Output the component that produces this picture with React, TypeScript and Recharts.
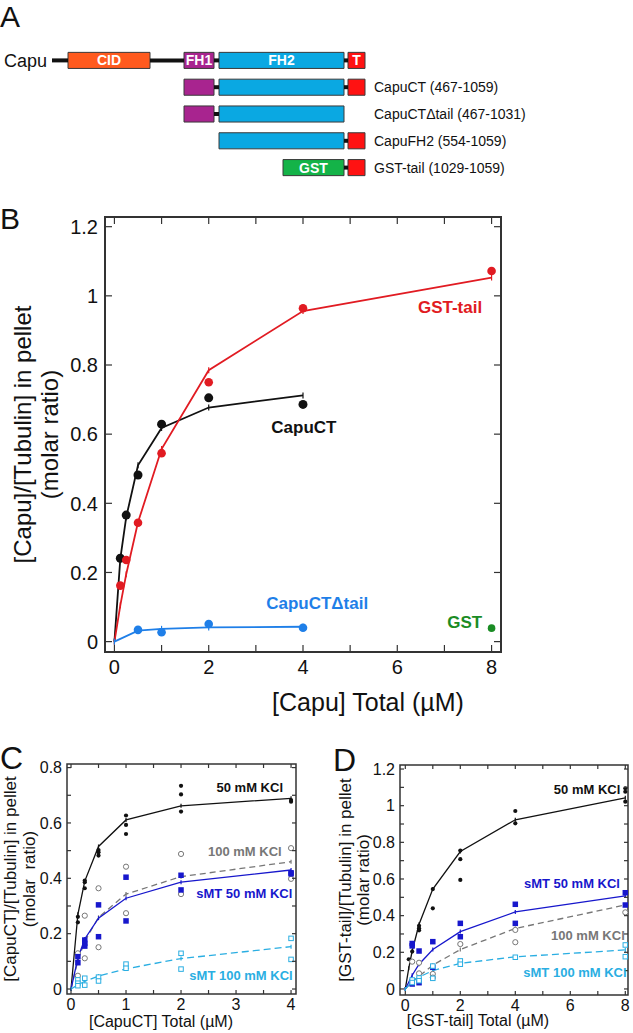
import React from 'react'
import { ComposedChart, Line, Scatter, XAxis, YAxis, ReferenceArea, ReferenceLine, ReferenceDot, Label } from 'recharts'

const FONT = '"Liberation Sans", Arial, Helvetica, sans-serif'

// ---- A: domain map, schematic units along the chain ----
const rowLabels = ['Capu', 'CapuCT (467-1059)', 'CapuCT\u0394tail (467-1031)', 'CapuFH2 (554-1059)', 'GST-tail (1029-1059)']
const rowDomains = [
  ['CID', 'FH1', 'FH2', 'T'],
  ['FH1', 'FH2', 'T'],
  ['FH1', 'FH2'],
  ['FH2', 'T'],
  ['GST', 'T'],
]
const domainStart: Record<string, number> = { CID: 68, FH1: 184, FH2: 219, T: 348, GST: 283 }
const domainEnd: Record<string, number> = { CID: 150, FH1: 214, FH2: 344, T: 365, GST: 344 }
const capuNStart = 52
const chainEnd = 365

// ---- B: pelleting, molar ratio vs total conc (uM) ----
const capuCTConc = [0.125, 0.25, 0.5, 1, 2, 4]
const capuCTPts = [0.241, 0.366, 0.482, 0.629, 0.705, 0.686]
const capuCTFitX = [0, 0.125, 0.25, 0.5, 1, 2, 4]
const capuCTFit = [0, 0.24, 0.36, 0.51, 0.618, 0.677, 0.712]

const gstTailConc = [0.125, 0.25, 0.5, 1, 2, 4, 8]
const gstTailPts = [0.162, 0.236, 0.344, 0.545, 0.75, 0.964, 1.072]
const gstTailFitX = [0, 0.125, 0.25, 0.5, 1, 2, 4, 8]
const gstTailFit = [0, 0.105, 0.195, 0.345, 0.557, 0.785, 0.956, 1.053]

const dTailConc = [0.5, 1, 2, 4]
const dTailPts = [0.034, 0.027, 0.051, 0.04]
const dTailFitX = [0, 0.5, 1, 2, 4]
const dTailFit = [0, 0.032, 0.037, 0.041, 0.043]

const gstConc = [8]
const gstPts = [0.039]

// ---- C: CapuCT, replicates per concentration ----
const cConc = [0.125, 0.25, 0.5, 1, 2, 4]
const cFitX = [0, 0.125, 0.25, 0.5, 1, 2, 4]
const c50Pts = [[0.261, 0.241], [0.392, 0.386, 0.364], [0.502, 0.494, 0.482], [0.627, 0.593, 0.56], [0.734, 0.703, 0.641], [0.683, 0.677]]
const c50Fit = [0, 0.27, 0.39, 0.515, 0.611, 0.662, 0.689]
const c100Pts = [[0.129, 0.048], [0.265, 0.111], [0.364, 0.151], [0.442, 0.274], [0.488, 0.343], [0.509, 0.398]]
const c100Fit = [0, 0.104, 0.173, 0.259, 0.343, 0.406, 0.46]
const cSmt50Pts = [[0.117, 0.095], [0.177, 0.165, 0.155], [0.304, 0.189], [0.404, 0.246], [0.411, 0.358], [0.42, 0.416]]
const cSmt50Fit = [0, 0.112, 0.181, 0.256, 0.328, 0.386, 0.43]
const cSmt100Pts = [[0.033, 0.021, 0.012], [0.039, 0.014], [0.043, 0.029], [0.09, 0.075], [0.129, 0.072], [0.183, 0.107]]
const cSmt100Fit = [0, 0.015, 0.028, 0.047, 0.073, 0.11, 0.153]

// ---- D: GST-tail ----
const d50Conc = [0.125, 0.25, 0.5, 1, 2, 4, 8]
const d50Pts = [[0.162], [0.204], [0.345, 0.331, 0.32], [0.545, 0.44], [0.755, 0.708, 0.595], [0.971, 0.904], [1.095, 1.076, 1.022]]
const d50FitX = [0, 0.125, 0.25, 0.5, 1, 2, 4, 8]
const d50Fit = [0, 0.113, 0.207, 0.353, 0.545, 0.75, 0.923, 1.043]
const dConc = [0.25, 0.5, 1, 2, 4, 8]
const dFitX = [0, 0.25, 0.5, 1, 2, 4, 8]
const dSmt50Pts = [[0.248, 0.235, 0.027], [0.207, 0.034], [0.258, 0.118], [0.358, 0.285], [0.462, 0.358], [0.525, 0.458]]
const dSmt50Fit = [0, 0.075, 0.135, 0.215, 0.313, 0.42, 0.508]
const d100Pts = [[0.149], [0.143, 0.085], [0.082, 0.062], [0.245], [0.322, 0.255], [0.418]]
const d100Fit = [0, 0.04, 0.07, 0.13, 0.215, 0.33, 0.458]
const dSmt100Pts = [[0.049, 0.035], [0.06, 0.045], [0.125, 0.058], [0.153, 0.135], [0.173], [0.24, 0.176]]
const dSmt100Fit = [0, 0.04, 0.065, 0.1, 0.14, 0.175, 0.213]

// ---- axis ticks ----
const bXTicks = [0, 1, 2, 3, 4, 5, 6, 7, 8]
const bXShown = [0, 2, 4, 6, 8]
const bYTicks = [0, 0.2, 0.4, 0.6, 0.8, 1, 1.2]
const cXTicks = [0, 0.5, 1, 1.5, 2, 2.5, 3, 3.5, 4]
const cXShown = [0, 1, 2, 3, 4]
const cYTicks = [0, 0.1, 0.2, 0.3, 0.4, 0.5, 0.6, 0.7, 0.8]
const cYShown = [0, 0.2, 0.4, 0.6, 0.8]
const dXTicks = [0, 1, 2, 3, 4, 5, 6, 7, 8]
const dXShown = [0, 2, 4, 6, 8]
const dYTicks = [0, 0.1, 0.2, 0.3, 0.4, 0.5, 0.6, 0.7, 0.8, 0.9, 1, 1.1, 1.2]
const dYShown = [0, 0.2, 0.4, 0.6, 0.8, 1, 1.2]

const COLORS = {
  black: '#111',
  red: '#e11b22',
  blueB: '#1f7fe8',
  green: '#1a8c24',
  blue: '#1717cc',
  light: '#2aaee2',
  gray: '#777',
  frame: '#333',
}
const domainColor: Record<string, string> = { CID: '#ff5a1e', FH1: '#a8248f', FH2: '#0aa8e2', T: '#ff1212', GST: '#14b348' }

const toXY = (xs: number[], ys: number[]) => xs.map((x, i) => ({ x, y: ys[i] }))
const toReps = (xs: number[], reps: number[][]) => xs.flatMap((x, i) => reps[i].map((y) => ({ x, y })))

const linkers = rowDomains.flatMap((doms, row) => {
  const spans = doms.map((d) => [domainStart[d], domainEnd[d]]).sort((a, b) => a[0] - b[0])
  const segs: number[][] = []
  if (row === 0) segs.push([capuNStart, spans[0][0]])
  for (let i = 1; i < spans.length; i++) segs.push([spans[i - 1][1], spans[i][0]])
  return segs.map((s) => ({ row, x1: s[0], x2: s[1] }))
})

const tickDot = (color: string, h: number) => (p: any) => {
  if (p.cx == null || p.cy == null) return <g key={p.index} />
  return <path key={p.index} d={`M${p.cx},${p.cy - h}V${p.cy + h}`} stroke={color} strokeWidth={1.2} />
}
const circleShape = (r: number, fill: string, stroke = 'none') => (p: any) => (
  <circle cx={p.cx} cy={p.cy} r={r} fill={fill} stroke={stroke} strokeWidth={1} />
)
const squareShape = (s: number, fill: string, stroke = 'none') => (p: any) => (
  <rect x={p.cx - s / 2} y={p.cy - s / 2} width={s} height={s} fill={fill} stroke={stroke} strokeWidth={1} />
)
const noShape = () => <g />

const yTitle = (lines: string[], xs: number[], size: number) => (props: any) => {
  const vb = props.viewBox || { y: 0, height: 0 }
  const cy = vb.y + vb.height / 2
  return (
    <g>
      {lines.map((t, i) => (
        <text key={i} x={xs[i]} y={cy} transform={`rotate(-90 ${xs[i]} ${cy})`} textAnchor="middle" dominantBaseline="central"
          fontSize={size} fontFamily={FONT} fill="#111" style={{ whiteSpace: 'pre' }}>{t}</text>
      ))}
    </g>
  )
}
const xTitle = (text: string, cx: number, capTop: number, size: number) => () => (
  <text x={cx} y={capTop + size * 0.716} textAnchor="middle" fontSize={size} fontFamily={FONT} fill="#111">{text}</text>
)

type Frame = {
  xDomain: [number, number]; xTicks: number[]; xShown: number[]
  yDomain: [number, number]; yTicks: number[]; yShown: number[]
  plotW: number; plotH: number
  tick: number; fontSize: number; xGap: number; yGap: number
  yWidth: number; xHeight: number; stroke: number
  xTitle: (p: any) => any; yTitle: (p: any) => any
}
// bottom/left axes carry the labels; each tick also draws its inward marks on both opposite sides of the box
function frameAxes(o: Frame) {
  const lineStyle = { stroke: COLORS.frame, strokeWidth: 1.2 }
  const bottomTick = (p: any) => {
    const v = p.payload.value
    const yb = p.y - o.xGap
    return (
      <g>
        <line x1={p.x} x2={p.x} y1={yb} y2={yb - o.tick} {...lineStyle} />
        <line x1={p.x} x2={p.x} y1={yb - o.plotH} y2={yb - o.plotH + o.tick} {...lineStyle} />
        {o.xShown.includes(v) && (
          <text x={p.x} y={p.y + o.fontSize * 0.72} textAnchor="middle" fontSize={o.fontSize} fontFamily={FONT} fill="#111">{String(v)}</text>
        )}
      </g>
    )
  }
  const leftTick = (p: any) => {
    const v = p.payload.value
    const xl = p.x + o.yGap
    return (
      <g>
        <line x1={xl} x2={xl + o.tick} y1={p.y} y2={p.y} {...lineStyle} />
        <line x1={xl + o.plotW} x2={xl + o.plotW - o.tick} y1={p.y} y2={p.y} {...lineStyle} />
        {o.yShown.includes(v) && (
          <text x={p.x} y={p.y + o.fontSize * 0.36} textAnchor="end" fontSize={o.fontSize} fontFamily={FONT} fill="#111">{String(v)}</text>
        )}
      </g>
    )
  }
  return [
    <XAxis key="xb" type="number" dataKey="x" domain={o.xDomain} ticks={o.xTicks} interval={0} allowDataOverflow
      tickSize={0} tickMargin={o.xGap} axisLine={false} tickLine={false} tick={bottomTick} height={o.xHeight}>
      <Label content={o.xTitle} />
    </XAxis>,
    <YAxis key="yl" type="number" dataKey="y" domain={o.yDomain} ticks={o.yTicks} interval={0} allowDataOverflow
      tickSize={0} tickMargin={o.yGap} axisLine={false} tickLine={false} tick={leftTick} width={o.yWidth}>
      <Label content={o.yTitle} />
    </YAxis>,
    <ReferenceArea key="frame" x1={o.xDomain[0]} x2={o.xDomain[1]} y1={o.yDomain[0]} y2={o.yDomain[1]}
      fill="none" fillOpacity={0} stroke={COLORS.frame} strokeWidth={o.stroke} ifOverflow="visible" />,
  ]
}

const note = (key: string, x: number, y: number, text: string, color: string, size: number) => (
  <ReferenceDot key={key} x={x} y={y} r={0} fill="none" stroke="none" ifOverflow="visible"
    label={{ value: text, position: 'center', fill: color, fontSize: size, fontWeight: 700, fontFamily: FONT }} />
)

const aRows = rowLabels.map((name, row) => ({ x: row === 0 ? capuNStart : chainEnd, y: row, name }))

function PanelA() {
  return (
    <ComposedChart width={633} height={190} data={aRows} margin={{ top: 47, right: 0, bottom: 9, left: 0 }}>
      <XAxis type="number" dataKey="x" domain={[0, 633]} allowDataOverflow hide />
      <YAxis type="number" dataKey="y" domain={[-0.5, 4.5]} allowDataOverflow reversed hide />
      <Scatter data={aRows} shape={noShape} isAnimationActive={false} />
      {linkers.map((l, i) => (
        <ReferenceLine key={'lk' + i} segment={[{ x: l.x1, y: l.row }, { x: l.x2, y: l.row }]} stroke="#111" strokeWidth={4} ifOverflow="visible" />
      ))}
      {rowDomains.flatMap((doms, row) =>
        doms.map((d) => (
          <ReferenceArea key={row + d} x1={domainStart[d]} x2={domainEnd[d]} y1={row - 0.3} y2={row + 0.3}
            fill={domainColor[d]} fillOpacity={1} stroke="#3a3a3a" strokeWidth={1} ifOverflow="visible"
            label={row === 0 || d === 'GST'
              ? { value: d, position: 'center', fill: '#fff', fontSize: 14, fontWeight: 700, fontFamily: FONT }
              : undefined} />
        )),
      )}
      {aRows.map((r) => (
        <ReferenceDot key={'rl' + r.y} x={r.x} y={r.y} r={0} fill="none" stroke="none" ifOverflow="visible"
          label={{ value: r.name, position: r.y === 0 ? 'left' : 'right', offset: r.y === 0 ? 5 : 9, fill: '#111', fontSize: r.y === 0 ? 18 : 14, fontFamily: FONT }} />
      ))}
    </ComposedChart>
  )
}

function PanelB() {
  return (
    <ComposedChart width={633} height={540} margin={{ top: 27, right: 132, bottom: 48, left: 65 }}>
      {frameAxes({
        xDomain: [-0.2, 8.2], xTicks: bXTicks, xShown: bXShown,
        yDomain: [-0.03, 1.228], yTicks: bYTicks, yShown: bYTicks,
        plotW: 396, plotH: 435,
        tick: 7, fontSize: 20, xGap: 8, yGap: 7, yWidth: 40, xHeight: 30, stroke: 2,
        xTitle: xTitle('[Capu] Total (\u00b5M)', 368, 503, 25),
        yTitle: yTitle(['[Capu]/[Tubulin] in pellet', '(molar ratio)'], [22, 49], 24),
      })}
      <Line data={toXY(capuCTFitX, capuCTFit)} dataKey="y" stroke={COLORS.black} strokeWidth={1.8} dot={tickDot(COLORS.black, 3)} activeDot={false} isAnimationActive={false} />
      <Line data={toXY(gstTailFitX, gstTailFit)} dataKey="y" stroke={COLORS.red} strokeWidth={1.8} dot={tickDot(COLORS.red, 3)} activeDot={false} isAnimationActive={false} />
      <Line data={toXY(dTailFitX, dTailFit)} dataKey="y" stroke={COLORS.blueB} strokeWidth={1.8} dot={tickDot(COLORS.blueB, 3)} activeDot={false} isAnimationActive={false} />
      <Scatter data={toXY(capuCTConc, capuCTPts)} shape={circleShape(4.5, COLORS.black)} isAnimationActive={false} />
      <Scatter data={toXY(gstTailConc, gstTailPts)} shape={circleShape(4.3, COLORS.red)} isAnimationActive={false} />
      <Scatter data={toXY(dTailConc, dTailPts)} shape={circleShape(4.3, COLORS.blueB)} isAnimationActive={false} />
      <Scatter data={toXY(gstConc, gstPts)} shape={circleShape(3.8, COLORS.green)} isAnimationActive={false} />
      {note('nb1', 7.12, 0.967, 'GST-tail', COLORS.red, 17)}
      {note('nb2', 4.02, 0.62, 'CapuCT', COLORS.black, 17)}
      {note('nb3', 4.3, 0.112, 'CapuCT\u0394tail', COLORS.blueB, 17)}
      {note('nb4', 7.43, 0.057, 'GST', COLORS.green, 17)}
    </ComposedChart>
  )
}

function PanelC() {
  return (
    <ComposedChart width={310} height={333} margin={{ top: 64, right: 14, bottom: 19, left: 37 }}>
      {frameAxes({
        xDomain: [-0.073, 4.09], xTicks: cXTicks, xShown: cXShown,
        yDomain: [-0.018, 0.813], yTicks: cYTicks, yShown: cYShown,
        plotW: 229, plotH: 230,
        tick: 4, fontSize: 16, xGap: 4, yGap: 5, yWidth: 30, xHeight: 20, stroke: 1.5,
        xTitle: xTitle('[CapuCT] Total (\u00b5M)', 161, 316, 16),
        yTitle: yTitle(['[CapuCT]/[Tubulin] in pellet', '(molar  ratio)'], [10, 29], 17),
      })}
      <Line data={toXY(cFitX, c50Fit)} dataKey="y" stroke={COLORS.black} strokeWidth={1.3} dot={tickDot(COLORS.black, 2)} activeDot={false} isAnimationActive={false} />
      <Line data={toXY(cFitX, c100Fit)} dataKey="y" stroke={COLORS.gray} strokeWidth={1.3} strokeDasharray="6 4" dot={tickDot(COLORS.gray, 2)} activeDot={false} isAnimationActive={false} />
      <Line data={toXY(cFitX, cSmt50Fit)} dataKey="y" stroke={COLORS.blue} strokeWidth={1.3} dot={tickDot(COLORS.blue, 2)} activeDot={false} isAnimationActive={false} />
      <Line data={toXY(cFitX, cSmt100Fit)} dataKey="y" stroke={COLORS.light} strokeWidth={1.3} strokeDasharray="7 4" dot={tickDot(COLORS.light, 2)} activeDot={false} isAnimationActive={false} />
      <Scatter data={toReps(cConc, c50Pts)} shape={circleShape(2.1, COLORS.black)} isAnimationActive={false} />
      <Scatter data={toReps(cConc, c100Pts)} shape={circleShape(2.6, '#fff', COLORS.gray)} isAnimationActive={false} />
      <Scatter data={toReps(cConc, cSmt50Pts)} shape={squareShape(5.5, COLORS.blue)} isAnimationActive={false} />
      <Scatter data={toReps(cConc, cSmt100Pts)} shape={squareShape(4.5, '#fff', COLORS.light)} isAnimationActive={false} />
      {note('nc1', 3.25, 0.727, '50 mM KCl', COLORS.black, 13)}
      {note('nc2', 3.16, 0.499, '100 mM KCl', COLORS.gray, 13)}
      {note('nc3', 3.15, 0.347, 'sMT 50 mM KCl', COLORS.blue, 13)}
      {note('nc4', 3.09, 0.051, 'sMT 100 mM KCl', COLORS.light, 13)}
    </ComposedChart>
  )
}

function PanelD() {
  return (
    <ComposedChart width={313} height={333} margin={{ top: 65, right: 5, bottom: 18, left: 50 }}>
      {frameAxes({
        xDomain: [-0.193, 8.098], xTicks: dXTicks, xShown: dXShown,
        yDomain: [-0.033, 1.222], yTicks: dYTicks, yShown: dYShown,
        plotW: 228, plotH: 230,
        tick: 4, fontSize: 16, xGap: 4, yGap: 5, yWidth: 30, xHeight: 20, stroke: 1.5,
        xTitle: xTitle('[GST-tail] Total (\u00b5M)', 158, 315, 16),
        yTitle: yTitle(['[GST-tail]/[Tubulin] in pellet', '(molar ratio)'], [25, 43], 17),
      })}
      <Line data={toXY(d50FitX, d50Fit)} dataKey="y" stroke={COLORS.black} strokeWidth={1.3} dot={tickDot(COLORS.black, 2)} activeDot={false} isAnimationActive={false} />
      <Line data={toXY(dFitX, d100Fit)} dataKey="y" stroke={COLORS.gray} strokeWidth={1.3} strokeDasharray="6 4" dot={tickDot(COLORS.gray, 2)} activeDot={false} isAnimationActive={false} />
      <Line data={toXY(dFitX, dSmt50Fit)} dataKey="y" stroke={COLORS.blue} strokeWidth={1.3} dot={tickDot(COLORS.blue, 2)} activeDot={false} isAnimationActive={false} />
      <Line data={toXY(dFitX, dSmt100Fit)} dataKey="y" stroke={COLORS.light} strokeWidth={1.3} strokeDasharray="7 4" dot={tickDot(COLORS.light, 2)} activeDot={false} isAnimationActive={false} />
      <Scatter data={toReps(d50Conc, d50Pts)} shape={circleShape(2.1, COLORS.black)} isAnimationActive={false} />
      <Scatter data={toReps(dConc, d100Pts)} shape={circleShape(2.6, '#fff', COLORS.gray)} isAnimationActive={false} />
      <Scatter data={toReps(dConc, dSmt50Pts)} shape={squareShape(5.5, COLORS.blue)} isAnimationActive={false} />
      <Scatter data={toReps(dConc, dSmt100Pts)} shape={squareShape(4.5, '#fff', COLORS.light)} isAnimationActive={false} />
      {note('nd1', 6.61, 1.091, '50 mM KCl', COLORS.black, 13)}
      {note('nd2', 6.06, 0.578, 'sMT 50 mM KCl', COLORS.blue, 13)}
      {note('nd3', 6.64, 0.29, '100 mM KCl', COLORS.gray, 13)}
      {note('nd4', 6.17, 0.093, 'sMT 100 mM KCl', COLORS.light, 13)}
    </ComposedChart>
  )
}

export default function App() {
  const abs = (left: number, top: number) => ({ position: 'absolute' as const, left, top })
  return (
    <div style={{ position: 'absolute', left: 0, top: 0, width: 633, height: 1033, background: '#fff', fontFamily: FONT, overflow: 'hidden' }}>
      <div style={abs(0, 0)}><PanelA /></div>
      <div style={abs(0, 190)}><PanelB /></div>
      <div style={abs(0, 700)}><PanelC /></div>
      <div style={abs(320, 700)}><PanelD /></div>
      <svg width={633} height={1033} style={{ position: 'absolute', left: 0, top: 0, pointerEvents: 'none' }}>
        <text x={0} y={27} fontSize={30} fontFamily={FONT} fill="#111">A</text>
        <text x={0} y={229} fontSize={30} fontFamily={FONT} fill="#111">B</text>
        <text x={0} y={769} fontSize={32} fontFamily={FONT} fill="#111">C</text>
        <text x={333} y={771} fontSize={32} fontFamily={FONT} fill="#111">D</text>
      </svg>
    </div>
  )
}
